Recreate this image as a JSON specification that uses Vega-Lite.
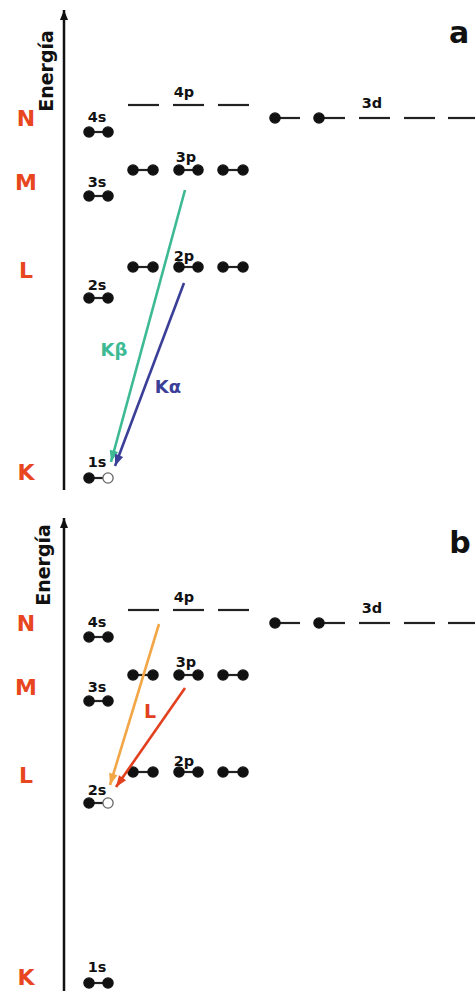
{
  "$schema": "https://vega.github.io/schema/vega-lite/v6.json",
  "padding": 0,
  "spacing": 0,
  "bounds": "flush",
  "background": "white",
  "config": {"view": {"stroke": null}},
  "resolve": {"scale": {"color": "independent"}},
  "datasets": {
    "orbitals": [
      {"orbital": "4s", "E": 373, "x": 89, "x2": 108},
      {"orbital": "3s", "E": 309, "x": 89, "x2": 108},
      {"orbital": "2s", "E": 207, "x": 89, "x2": 108},
      {"orbital": "1s", "E": 27, "x": 89, "x2": 108},
      {"orbital": "4p", "E": 400, "x": 128, "x2": 159},
      {"orbital": "4p", "E": 400, "x": 173, "x2": 204},
      {"orbital": "4p", "E": 400, "x": 218, "x2": 249},
      {"orbital": "3p", "E": 335, "x": 133, "x2": 153},
      {"orbital": "3p", "E": 335, "x": 179, "x2": 198},
      {"orbital": "3p", "E": 335, "x": 223, "x2": 243},
      {"orbital": "2p", "E": 238, "x": 133, "x2": 153},
      {"orbital": "2p", "E": 238, "x": 179, "x2": 198},
      {"orbital": "2p", "E": 238, "x": 223, "x2": 243},
      {"orbital": "3d", "E": 387, "x": 275, "x2": 300},
      {"orbital": "3d", "E": 387, "x": 319, "x2": 345},
      {"orbital": "3d", "E": 387, "x": 359, "x2": 390},
      {"orbital": "3d", "E": 387, "x": 404, "x2": 435},
      {"orbital": "3d", "E": 387, "x": 448, "x2": 475}
    ],
    "electrons": [
      {"orbital": "4s", "E": 373, "x": 89},
      {"orbital": "4s", "E": 373, "x": 108},
      {"orbital": "3s", "E": 309, "x": 89},
      {"orbital": "3s", "E": 309, "x": 108},
      {"orbital": "2s", "E": 207, "x": 89},
      {"orbital": "2s", "E": 207, "x": 108, "hole": "b"},
      {"orbital": "1s", "E": 27, "x": 89},
      {"orbital": "1s", "E": 27, "x": 108, "hole": "a"},
      {"orbital": "3p", "E": 335, "x": 133},
      {"orbital": "3p", "E": 335, "x": 153},
      {"orbital": "3p", "E": 335, "x": 179},
      {"orbital": "3p", "E": 335, "x": 198},
      {"orbital": "3p", "E": 335, "x": 223},
      {"orbital": "3p", "E": 335, "x": 243},
      {"orbital": "2p", "E": 238, "x": 133},
      {"orbital": "2p", "E": 238, "x": 153},
      {"orbital": "2p", "E": 238, "x": 179},
      {"orbital": "2p", "E": 238, "x": 198},
      {"orbital": "2p", "E": 238, "x": 223},
      {"orbital": "2p", "E": 238, "x": 243},
      {"orbital": "3d", "E": 387, "x": 275},
      {"orbital": "3d", "E": 387, "x": 319}
    ],
    "orbitalNames": [
      {"text": "4s", "x": 97, "E": 383},
      {"text": "3s", "x": 97, "E": 318},
      {"text": "2s", "x": 97, "E": 215},
      {"text": "1s", "x": 97, "E": 38},
      {"text": "4p", "x": 184, "E": 408},
      {"text": "3p", "x": 186, "E": 343},
      {"text": "2p", "x": 184, "E": 244},
      {"text": "3d", "x": 372, "E": 397}
    ],
    "shells": [
      {"text": "N", "x": 26, "E": 386},
      {"text": "M", "x": 26, "E": 322},
      {"text": "L", "x": 26, "E": 234},
      {"text": "K", "x": 26, "E": 32}
    ],
    "axes": [
      {"panel": "a", "x": 64, "E": 15, "E2": 495, "title": "Energía", "tx": 47, "tE": 434, "letter": "a", "lx": 459, "lE": 462},
      {"panel": "b", "x": 64, "E": 19, "E2": 492, "title": "Energía", "tx": 44, "tE": 445, "letter": "b", "lx": 460, "lE": 457}
    ],
    "transitions": [
      {"panel": "a", "line": "3p→1s", "x": 185, "E": 315, "x2": 111, "E2": 43},
      {"panel": "a", "line": "2p→1s", "x": 184, "E": 222, "x2": 115, "E2": 39},
      {"panel": "b", "line": "4p→2s", "x": 159, "E": 386, "x2": 110, "E2": 225},
      {"panel": "b", "line": "3p→2s", "x": 185, "E": 322, "x2": 116, "E2": 223}
    ],
    "transitionNames": [
      {"panel": "a", "line": "3p→1s", "text": "Kβ", "x": 114, "E": 154},
      {"panel": "a", "line": "2p→1s", "text": "Kα", "x": 168, "E": 117},
      {"panel": "b", "line": "3p→2s", "text": "L", "x": 150, "E": 298}
    ]
  },
  "vconcat": [
    {
      "width": 475,
      "height": 505,
      "encoding": {
        "x": {"field": "x", "type": "quantitative", "scale": {"domain": [0, 475], "nice": false, "zero": false}, "axis": null},
        "y": {"field": "E", "type": "quantitative", "scale": {"domain": [0, 505], "nice": false, "zero": false}, "axis": null}
      },
      "layer": [
        {
          "data": {"name": "axes"},
          "transform": [{"filter": "datum.panel === 'a'"}],
          "mark": {"type": "rule", "color": "#111", "strokeWidth": 2.5},
          "encoding": {"y2": {"field": "E2"}}
        },
        {
          "data": {"name": "axes"},
          "transform": [{"filter": "datum.panel === 'a'"}],
          "mark": {"type": "point", "filled": true, "color": "#111", "opacity": 1, "shape": "M0,0L-0.4,-1L0.4,-1Z", "size": 400, "angle": 180},
          "encoding": {"y": {"field": "E2", "type": "quantitative", "scale": {"domain": [0, 505], "nice": false, "zero": false}, "axis": null}}
        },
        {
          "data": {"name": "axes"},
          "transform": [{"filter": "datum.panel === 'a'"}],
          "mark": {"type": "text", "font": "DejaVu Sans", "fontWeight": "bold", "fontSize": 19, "angle": 270, "align": "center", "baseline": "middle", "color": "#111"},
          "encoding": {
            "x": {"field": "tx", "type": "quantitative", "scale": {"domain": [0, 475], "nice": false, "zero": false}, "axis": null},
            "y": {"field": "tE", "type": "quantitative", "scale": {"domain": [0, 505], "nice": false, "zero": false}, "axis": null},
            "text": {"field": "title"}
          }
        },
        {
          "data": {"name": "axes"},
          "transform": [{"filter": "datum.panel === 'a'"}],
          "mark": {"type": "text", "font": "DejaVu Sans", "fontWeight": "bold", "fontSize": 30, "align": "center", "baseline": "alphabetic", "color": "#111"},
          "encoding": {
            "x": {"field": "lx", "type": "quantitative", "scale": {"domain": [0, 475], "nice": false, "zero": false}, "axis": null},
            "y": {"field": "lE", "type": "quantitative", "scale": {"domain": [0, 505], "nice": false, "zero": false}, "axis": null},
            "text": {"field": "letter"}
          }
        },
        {
          "data": {"name": "shells"},
          "mark": {"type": "text", "font": "DejaVu Sans", "fontWeight": "bold", "fontSize": 22, "align": "center", "baseline": "middle", "color": "#e8461e"},
          "encoding": {"text": {"field": "text"}}
        },
        {
          "data": {"name": "orbitals"},
          "mark": {"type": "rule", "color": "#222", "strokeWidth": 2.2},
          "encoding": {"x2": {"field": "x2"}}
        },
        {
          "data": {"name": "orbitalNames"},
          "mark": {"type": "text", "font": "DejaVu Sans", "fontWeight": "bold", "fontSize": 14.5, "align": "center", "baseline": "alphabetic", "color": "#111"},
          "encoding": {"text": {"field": "text"}}
        },
        {
          "data": {"name": "transitions"},
          "transform": [{"filter": "datum.panel === 'a'"}],
          "mark": {"type": "rule", "strokeWidth": 2.6, "strokeCap": "butt"},
          "encoding": {
            "x2": {"field": "x2"},
            "y2": {"field": "E2"},
            "color": {"field": "line", "type": "nominal", "scale": {"domain": ["3p→1s", "2p→1s"], "range": ["#3dba93", "#3b3f98"]}, "legend": null}
          }
        },
        {
          "data": {"name": "transitions"},
          "transform": [{"filter": "datum.line === '3p→1s'"}],
          "mark": {"type": "point", "filled": true, "color": "#3dba93", "opacity": 1, "shape": "M0,0L-0.38,-1L0.38,-1Z", "size": 520, "angle": 15},
          "encoding": {
            "x": {"field": "x2", "type": "quantitative", "scale": {"domain": [0, 475], "nice": false, "zero": false}, "axis": null},
            "y": {"field": "E2", "type": "quantitative", "scale": {"domain": [0, 505], "nice": false, "zero": false}, "axis": null}
          }
        },
        {
          "data": {"name": "transitions"},
          "transform": [{"filter": "datum.line === '2p→1s'"}],
          "mark": {"type": "point", "filled": true, "color": "#3b3f98", "opacity": 1, "shape": "M0,0L-0.38,-1L0.38,-1Z", "size": 520, "angle": 21},
          "encoding": {
            "x": {"field": "x2", "type": "quantitative", "scale": {"domain": [0, 475], "nice": false, "zero": false}, "axis": null},
            "y": {"field": "E2", "type": "quantitative", "scale": {"domain": [0, 505], "nice": false, "zero": false}, "axis": null}
          }
        },
        {
          "data": {"name": "electrons"},
          "mark": {"type": "circle", "size": 105, "opacity": 1, "strokeWidth": 1.3},
          "encoding": {
            "fill": {"condition": {"test": "datum.hole === 'a'", "value": "white"}, "value": "#111"},
            "stroke": {"condition": {"test": "datum.hole === 'a'", "value": "#666"}, "value": "#111"}
          }
        },
        {
          "data": {"name": "transitionNames"},
          "transform": [{"filter": "datum.panel === 'a'"}],
          "mark": {"type": "text", "font": "DejaVu Sans", "fontWeight": "bold", "fontSize": 18, "align": "center", "baseline": "middle"},
          "encoding": {
            "text": {"field": "text"},
            "color": {"field": "line", "type": "nominal", "scale": {"domain": ["3p→1s", "2p→1s"], "range": ["#3dba93", "#3b3f98"]}, "legend": null}
          }
        }
      ]
    },
    {
      "width": 475,
      "height": 486,
      "encoding": {
        "x": {"field": "x", "type": "quantitative", "scale": {"domain": [0, 475], "nice": false, "zero": false}, "axis": null},
        "y": {"field": "E", "type": "quantitative", "scale": {"domain": [19, 505], "nice": false, "zero": false}, "axis": null}
      },
      "layer": [
        {
          "data": {"name": "axes"},
          "transform": [{"filter": "datum.panel === 'b'"}],
          "mark": {"type": "rule", "color": "#111", "strokeWidth": 2.5},
          "encoding": {"y2": {"field": "E2"}}
        },
        {
          "data": {"name": "axes"},
          "transform": [{"filter": "datum.panel === 'b'"}],
          "mark": {"type": "point", "filled": true, "color": "#111", "opacity": 1, "shape": "M0,0L-0.4,-1L0.4,-1Z", "size": 400, "angle": 180},
          "encoding": {"y": {"field": "E2", "type": "quantitative", "scale": {"domain": [19, 505], "nice": false, "zero": false}, "axis": null}}
        },
        {
          "data": {"name": "axes"},
          "transform": [{"filter": "datum.panel === 'b'"}],
          "mark": {"type": "text", "font": "DejaVu Sans", "fontWeight": "bold", "fontSize": 19, "angle": 270, "align": "center", "baseline": "middle", "color": "#111"},
          "encoding": {
            "x": {"field": "tx", "type": "quantitative", "scale": {"domain": [0, 475], "nice": false, "zero": false}, "axis": null},
            "y": {"field": "tE", "type": "quantitative", "scale": {"domain": [19, 505], "nice": false, "zero": false}, "axis": null},
            "text": {"field": "title"}
          }
        },
        {
          "data": {"name": "axes"},
          "transform": [{"filter": "datum.panel === 'b'"}],
          "mark": {"type": "text", "font": "DejaVu Sans", "fontWeight": "bold", "fontSize": 30, "align": "center", "baseline": "alphabetic", "color": "#111"},
          "encoding": {
            "x": {"field": "lx", "type": "quantitative", "scale": {"domain": [0, 475], "nice": false, "zero": false}, "axis": null},
            "y": {"field": "lE", "type": "quantitative", "scale": {"domain": [19, 505], "nice": false, "zero": false}, "axis": null},
            "text": {"field": "letter"}
          }
        },
        {
          "data": {"name": "shells"},
          "mark": {"type": "text", "font": "DejaVu Sans", "fontWeight": "bold", "fontSize": 22, "align": "center", "baseline": "middle", "color": "#e8461e"},
          "encoding": {"text": {"field": "text"}}
        },
        {
          "data": {"name": "orbitals"},
          "mark": {"type": "rule", "color": "#222", "strokeWidth": 2.2},
          "encoding": {"x2": {"field": "x2"}}
        },
        {
          "data": {"name": "orbitalNames"},
          "mark": {"type": "text", "font": "DejaVu Sans", "fontWeight": "bold", "fontSize": 14.5, "align": "center", "baseline": "alphabetic", "color": "#111"},
          "encoding": {"text": {"field": "text"}}
        },
        {
          "data": {"name": "electrons"},
          "mark": {"type": "circle", "size": 105, "opacity": 1, "strokeWidth": 1.3},
          "encoding": {
            "fill": {"condition": {"test": "datum.hole === 'b'", "value": "white"}, "value": "#111"},
            "stroke": {"condition": {"test": "datum.hole === 'b'", "value": "#666"}, "value": "#111"}
          }
        },
        {
          "data": {"name": "transitions"},
          "transform": [{"filter": "datum.panel === 'b'"}],
          "mark": {"type": "rule", "strokeWidth": 2.6, "strokeCap": "butt"},
          "encoding": {
            "x2": {"field": "x2"},
            "y2": {"field": "E2"},
            "color": {"field": "line", "type": "nominal", "scale": {"domain": ["4p→2s", "3p→2s"], "range": ["#f2a646", "#e2401f"]}, "legend": null}
          }
        },
        {
          "data": {"name": "transitions"},
          "transform": [{"filter": "datum.line === '4p→2s'"}],
          "mark": {"type": "point", "filled": true, "color": "#f2a646", "opacity": 1, "shape": "M0,0L-0.38,-1L0.38,-1Z", "size": 520, "angle": 17},
          "encoding": {
            "x": {"field": "x2", "type": "quantitative", "scale": {"domain": [0, 475], "nice": false, "zero": false}, "axis": null},
            "y": {"field": "E2", "type": "quantitative", "scale": {"domain": [19, 505], "nice": false, "zero": false}, "axis": null}
          }
        },
        {
          "data": {"name": "transitions"},
          "transform": [{"filter": "datum.line === '3p→2s'"}],
          "mark": {"type": "point", "filled": true, "color": "#e2401f", "opacity": 1, "shape": "M0,0L-0.38,-1L0.38,-1Z", "size": 520, "angle": 35},
          "encoding": {
            "x": {"field": "x2", "type": "quantitative", "scale": {"domain": [0, 475], "nice": false, "zero": false}, "axis": null},
            "y": {"field": "E2", "type": "quantitative", "scale": {"domain": [19, 505], "nice": false, "zero": false}, "axis": null}
          }
        },
        {
          "data": {"name": "transitionNames"},
          "transform": [{"filter": "datum.panel === 'b'"}],
          "mark": {"type": "text", "font": "DejaVu Sans", "fontWeight": "bold", "fontSize": 19, "align": "center", "baseline": "middle", "color": "#e2401f"},
          "encoding": {"text": {"field": "text"}}
        }
      ]
    }
  ]
}
